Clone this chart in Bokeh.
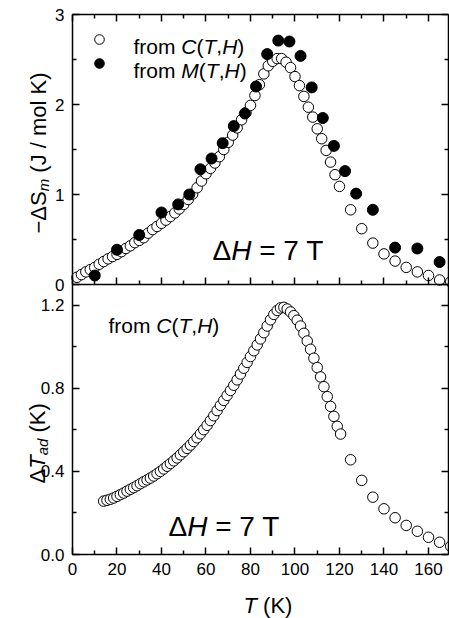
import math
from bokeh.plotting import figure
from bokeh.models import (LinearAxis, Range1d, FixedTicker, Label, Legend,
                          LegendItem, NumeralTickFormatter, PrintfTickFormatter)
from bokeh.embed import file_html
from bokeh.resources import INLINE

FONT = "Liberation Sans"

# ---------------- data ----------------
# -dS_m from C(T,H)  (open circles, top panel)
c_T = [2, 4, 6, 8, 10, 12, 14, 16, 18, 20, 22, 24, 26, 28, 30, 32, 34, 36, 38, 40,
       42, 44, 46, 48, 50, 52, 54, 56, 58, 60, 62, 64, 66, 68, 70, 72, 74, 76, 78, 80,
       82, 84, 86, 88, 90, 92, 94, 96, 98, 100, 102, 104, 106, 108, 110, 112, 114, 116, 118, 120,
       125, 130, 135, 140, 145, 150, 155, 160, 165, 170]
c_dS = [0.08, 0.11, 0.14, 0.165, 0.19, 0.225, 0.255, 0.285, 0.31, 0.335, 0.365, 0.40, 0.43, 0.465, 0.49,
        0.52, 0.57, 0.61, 0.645, 0.68, 0.715, 0.755, 0.795, 0.84, 0.89, 0.945, 1.005, 1.075, 1.15, 1.23,
        1.29, 1.35, 1.42, 1.50, 1.58, 1.66, 1.74, 1.83, 1.91, 1.99, 2.10, 2.22, 2.34, 2.43, 2.48,
        2.51, 2.51, 2.47, 2.41, 2.31, 2.21, 2.09, 1.97, 1.86, 1.73, 1.62, 1.49, 1.36, 1.22, 1.09,
        0.83, 0.62, 0.46, 0.34, 0.26, 0.19, 0.14, 0.10, 0.05, 0.03]

# -dS_m from M(T,H)  (filled circles, top panel)
m_T = [10, 20, 30, 40, 47.5, 52.5, 57.5, 62.5, 67.5, 72.5, 77.5, 82.5, 87.5, 92.5, 97.5,
       102.5, 107.5, 112.5, 117.5, 122.5, 127.5, 135, 145, 155, 165]
m_dS = [0.10, 0.386, 0.55, 0.80, 0.89, 1.00, 1.28, 1.40, 1.57, 1.76, 1.90, 2.20, 2.56, 2.71, 2.70,
        2.54, 2.19, 1.85, 1.54, 1.26, 1.01, 0.83, 0.41, 0.40, 0.25]

# dT_ad from C(T,H)  (open circles, bottom panel)
ad_T = [14.0, 15.5, 17.0, 18.5, 20.0, 21.5, 23.0, 24.5, 26.0, 27.5, 29.0, 30.5, 32.0, 33.5, 35.0,
        36.5, 38.0, 39.5, 41.0, 42.5, 44.0, 45.5, 47.0, 48.5, 50.0, 51.5, 53.0, 54.5, 56.0, 57.5,
        59.0, 60.5, 62.0, 63.5, 65.0, 66.5, 68.0, 69.5, 71.0, 72.5, 74.0, 75.5, 77.0, 78.5, 80.0,
        81.5, 83.0, 84.5, 86.0, 87.5, 89.0, 90.5, 92.0, 93.5, 95.0, 96.5, 98.0, 99.5, 101.0, 102.5,
        104.0, 105.5, 107.0, 108.5, 110.0, 111.5, 113.0, 114.5, 116.0, 117.5, 119.0, 120.5,
        125, 130, 135, 140, 145, 150, 155, 160, 165, 170]
ad_dT = [0.257, 0.261, 0.266, 0.272, 0.280, 0.288, 0.296, 0.305, 0.314, 0.322, 0.331, 0.341, 0.350, 0.359, 0.368,
         0.378, 0.389, 0.400, 0.412, 0.425, 0.438, 0.451, 0.465, 0.480, 0.495, 0.511, 0.527, 0.544, 0.562, 0.581,
         0.601, 0.622, 0.645, 0.668, 0.693, 0.718, 0.742, 0.766, 0.790, 0.815, 0.841, 0.869, 0.897, 0.925, 0.953,
         0.981, 1.009, 1.038, 1.068, 1.100, 1.130, 1.156, 1.175, 1.187, 1.190, 1.182, 1.168, 1.150, 1.128, 1.100,
         1.065, 1.028, 0.988, 0.945, 0.900, 0.855, 0.808, 0.760, 0.713, 0.665, 0.617, 0.580,
         0.456, 0.357, 0.276, 0.220, 0.177, 0.140, 0.112, 0.083, 0.059, 0.040]

x_major = [0, 20, 40, 60, 80, 100, 120, 140, 160]
x_minor = [10, 30, 50, 70, 90, 110, 130, 150, 170]
top_y_major = [0, 1, 2, 3]
top_y_minor = [0.5, 1.5, 2.5]
bot_y_major = [0.0, 0.4, 0.8, 1.2]
bot_y_minor = [0.2, 0.6, 1.0]

# ---------------- geometry (page pixels) ----------------
W, H = 449, 618
X_MAX = 169
BOX_L, BOX_R = 72, 448          # panel box left/right
TOP_T, MID, BOT_B = 14, 284, 554  # top of upper panel, shared edge, bottom of lower panel
TOP_MAX, BOT_MAX = 3.0, 1.3

SX = (BOX_R - BOX_L) / X_MAX          # px per K
SY_TOP = (MID - TOP_T) / TOP_MAX      # px per J/mol K
SY_BOT = (BOT_B - MID) / BOT_MAX      # px per K (dT)

def px_x(px):
    return (px - BOX_L) / SX

def py_top(py):
    return (MID - py) / SY_TOP

def py_bot(py):
    return (BOT_B - py) / SY_BOT

ADV = {'f': 0.278, 'r': 0.333, 'o': 0.556, 'm': 0.833, ' ': 0.278, 'C': 0.722, '(': 0.333,
       'T': 0.611, ',': 0.278, 'H': 0.722, ')': 0.333, 'M': 0.833, 'Δ': 0.668, '=': 0.584,
       '7': 0.556, '−': 0.584, 'S': 0.667, 'J': 0.5, '/': 0.278, 'l': 0.222, 'K': 0.667,
       'a': 0.556, 'd': 0.556}

def width(text, size):
    return sum(ADV.get(ch, 0.556) for ch in text) * size


def hchain(p, px, py, pieces, size):
    """Horizontal run of text pieces (page coordinates of the start/baseline)."""
    off = 0.0
    for text, italic in pieces:
        lead = len(text) - len(text.lstrip(" "))
        shown = text.strip(" ")
        p.add_layout(Label(x=px_x(px + off + width(" " * lead, size)), y=py_bot(py), text=shown,
                           text_font=FONT, text_font_size=f"{size}px",
                           text_font_style="italic" if italic else "normal",
                           text_align="left", text_baseline="alphabetic",
                           text_color="black"))
        off += width(text, size)


def vchain(p, base_px, start_py, pieces):
    """Vertical (rotated) run of text pieces reading bottom-to-top."""
    cur = start_py
    for text, italic, size, shift in pieces:
        lead = len(text) - len(text.lstrip(" "))
        shown = text.strip(" ")
        p.add_layout(Label(x=px_x(base_px + shift), y=py_bot(cur - width(" " * lead, size)),
                           text=shown, text_font=FONT,
                           text_font_size=f"{size}px", angle=math.pi / 2,
                           text_font_style="italic" if italic else "normal",
                           text_align="left", text_baseline="alphabetic",
                           text_color="black"))
        cur -= width(text, size)


def make_axis(major, minor, show_labels, bounds, fixed, fmt=None, y_range_name="default"):
    ax = LinearAxis(fixed_location=fixed, bounds=bounds, y_range_name=y_range_name)
    ax.ticker = FixedTicker(ticks=major, minor_ticks=minor)
    ax.axis_line_color = "black"
    ax.axis_line_width = 1.5
    ax.major_tick_line_color = "black"
    ax.minor_tick_line_color = "black"
    ax.major_tick_line_width = 1.5
    ax.minor_tick_line_width = 1.5
    ax.major_tick_in = 7
    ax.major_tick_out = 0
    ax.minor_tick_in = 4
    ax.minor_tick_out = 0
    ax.major_label_text_font = FONT
    ax.major_label_text_font_size = "17px"
    ax.major_label_text_color = "black"
    ax.major_label_standoff = 8
    if show_labels:
        if fmt is not None:
            ax.formatter = fmt
    else:
        ax.formatter = PrintfTickFormatter(format="")
    return ax

# one canvas; the two panels share x and use their own y scales
p = figure(width=W, height=H,
           x_range=Range1d(px_x(0), px_x(W)),
           y_range=Range1d(py_bot(H), py_bot(0)),
           x_axis_location=None, y_axis_location=None,
           output_backend="svg", toolbar_location=None,
           min_border=0, min_border_left=0, min_border_right=0,
           min_border_top=0, min_border_bottom=0)
p.extra_y_ranges = {"top": Range1d(py_top(H), py_top(0))}
p.xgrid.visible = False
p.ygrid.visible = False
p.outline_line_color = None
p.background_fill_color = "white"
p.border_fill_color = "white"

# --- upper panel axes
p.add_layout(make_axis(x_major, x_minor, False, (0, X_MAX), 0, y_range_name="top"), "below")
p.add_layout(make_axis(x_major, x_minor, False, (0, X_MAX), TOP_MAX, y_range_name="top"), "above")
p.add_layout(make_axis(top_y_major, top_y_minor, True, (0, TOP_MAX), 0, y_range_name="top"), "left")
p.add_layout(make_axis(top_y_major, top_y_minor, False, (0, TOP_MAX), X_MAX, y_range_name="top"), "right")
# --- lower panel axes
p.add_layout(make_axis(x_major, x_minor, True, (0, X_MAX), 0), "below")
p.add_layout(make_axis(bot_y_major, bot_y_minor, True, (0, BOT_MAX), 0,
                       fmt=NumeralTickFormatter(format="0.0")), "left")
p.add_layout(make_axis(bot_y_major, bot_y_minor, False, (0, BOT_MAX), X_MAX), "right")

# --- markers
r_c = p.scatter(c_T, c_dS, marker="circle", size=10.5, fill_color="white",
                line_color="black", line_width=1, y_range_name="top")
r_m = p.scatter(m_T, m_dS, marker="circle", size=11, fill_color="black",
                line_color="black", line_width=1, y_range_name="top")
p.scatter(ad_T, ad_dT, marker="circle", size=10.5, fill_color="white",
          line_color="black", line_width=1)

# legend keys (text drawn separately because of mixed italics)
leg = Legend(items=[LegendItem(label=" ", renderers=[r_c]),
                    LegendItem(label=" ", renderers=[r_m])],
             location=(86, H - 75), glyph_width=26, glyph_height=24, spacing=0,
             padding=0, margin=0, label_width=0, label_height=0, label_standoff=0,
             label_text_font_size="10px", background_fill_alpha=0, border_line_alpha=0)
p.add_layout(leg, "center")

# --- texts
hchain(p, 133, 45.5, [("from ", False), ("C", True), ("(", False), ("T", True),
                      (",", False), ("H", True), (")", False)], 21)
hchain(p, 133, 70, [("from ", False), ("M", True), ("(", False), ("T", True),
                    (",", False), ("H", True), (")", False)], 21)
hchain(p, 212, 250, [("Δ", False), ("H", True), (" = 7 T", False)], 28)

hchain(p, 108, 325, [("from ", False), ("C", True), ("(", False), ("T", True),
                     (",", False), ("H", True), (")", False)], 21)
hchain(p, 168, 526, [("Δ", False), ("H", True), (" = 7 T", False)], 28)

vchain(p, 38, 233, [("−ΔS", False, 22, 0), ("m", True, 15, 5), (" (J / mol K)", False, 22, 0)])
vchain(p, 37, 483, [("Δ", False, 22, 0), ("T", True, 22, 0), ("ad", True, 15, 5),
                    (" (K)", False, 22, 0)])

hchain(p, 243, 605, [("T", True), (" (K)", False)], 22)

open("out.html", "w").write(file_html(p, INLINE))
